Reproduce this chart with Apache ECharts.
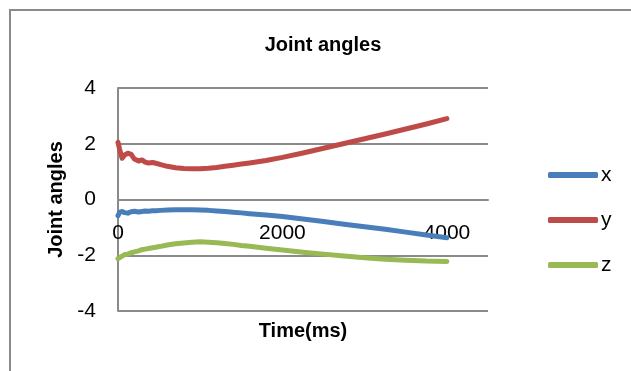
<!DOCTYPE html>
<html>
<head>
<meta charset="utf-8">
<title>Joint angles</title>
<script src="https://cdn.jsdelivr.net/npm/echarts@6/dist/echarts.min.js"></script>
<style>
  html, body { margin: 0; padding: 0; background: #fff; }
  #chart { width: 631px; height: 371px; }
</style>
</head>
<body>
<div id="chart"></div>
<script>
// Sample times (ms)
const timeMs = [0, 20, 50, 80, 120, 160, 200, 250, 290, 330, 370, 420, 460, 520, 600, 700, 800, 900,
  1000, 1100, 1200, 1300, 1400, 1500, 1600, 1800, 2000, 2250, 2500, 2750, 3000, 3250, 3500, 3750, 4000];

// Joint angle components
const angleX = [-0.58, -0.46, -0.43, -0.47, -0.49, -0.44, -0.42, -0.45, -0.43, -0.41, -0.42, -0.40, -0.40, -0.39, -0.38, -0.37, -0.37, -0.37,
  -0.38, -0.39, -0.41, -0.43, -0.46, -0.48, -0.51, -0.56, -0.61, -0.70, -0.79, -0.89, -0.98, -1.07, -1.17, -1.27, -1.37];
const angleY = [2.05, 1.80, 1.48, 1.60, 1.66, 1.62, 1.45, 1.38, 1.42, 1.34, 1.31, 1.33, 1.30, 1.25, 1.19, 1.14, 1.11, 1.10,
  1.10, 1.12, 1.15, 1.19, 1.23, 1.27, 1.31, 1.40, 1.51, 1.67, 1.84, 2.01, 2.18, 2.35, 2.53, 2.71, 2.90];
const angleZ = [-2.12, -2.07, -2.03, -1.98, -1.96, -1.91, -1.88, -1.84, -1.80, -1.78, -1.76, -1.73, -1.71, -1.68, -1.63, -1.59, -1.56, -1.53,
  -1.52, -1.53, -1.55, -1.58, -1.61, -1.65, -1.68, -1.75, -1.81, -1.89, -1.96, -2.03, -2.09, -2.14, -2.18, -2.21, -2.22];

const seriesNames = ['x', 'y', 'z'];
const seriesColors = ['#4a7ebb', '#be4b48', '#98b954'];

const FONT = '"Liberation Sans", Arial, sans-serif';
const GRID_GRAY = '#8a8a8a';

// plot box (px) and the value range of the angle axis
const PLOT = { left: 118, top: 88, right: 143, bottom: 60 };
const Y_MIN = -4, Y_MAX = 4;
// lift the time axis from the bottom edge up to the zero line
const plotHeight = 371 - PLOT.top - PLOT.bottom;
const zeroLift = plotHeight * (0 - Y_MIN) / (Y_MAX - Y_MIN);

function pairs(values) {
  return timeMs.map((t, i) => [t, values[i]]);
}

const chart = echarts.init(document.getElementById('chart'), null, { renderer: 'canvas' });

chart.setOption({
  backgroundColor: '#ffffff',
  animation: false,
  textStyle: { fontFamily: FONT },
  graphic: [
    {
      type: 'rect',
      z: -1,
      shape: { x: 10, y: 10, width: 700, height: 500 },
      style: { fill: 'none', stroke: GRID_GRAY, lineWidth: 2 }
    },
    {
      type: 'text',
      x: 323,
      y: 45,
      style: {
        text: 'Joint angles',
        fontFamily: FONT,
        fontSize: 20,
        fontWeight: 'bold',
        fill: '#000',
        align: 'center',
        verticalAlign: 'middle'
      }
    }
  ],
  legend: {
    orient: 'vertical',
    left: 543,
    top: 159,
    padding: 5,
    itemWidth: 50,
    itemHeight: 6,
    itemGap: 23,
    icon: 'roundRect',
    data: seriesNames,
    textStyle: { fontFamily: FONT, fontSize: 21, lineHeight: 22, color: '#000', padding: [0, 0, 0, -2] }
  },
  grid: Object.assign({ containLabel: false, outerBoundsMode: 'none' }, PLOT),
  xAxis: {
    type: 'value',
    min: 0,
    max: 4500,
    interval: 2000,
    z: 3,
    offset: -zeroLift,
    name: 'Time(ms)',
    nameLocation: 'middle',
    nameGap: 122,
    nameTextStyle: { fontFamily: FONT, fontSize: 20, fontWeight: 'bold', color: '#000' },
    axisLine: { show: true, onZero: false, lineStyle: { color: GRID_GRAY, width: 2 } },
    axisTick: { show: false },
    splitLine: { show: false },
    axisLabel: {
      fontFamily: FONT, fontSize: 21, color: '#000', margin: 23, showMaxLabel: false,
      formatter: (v) => String(v)
    }
  },
  yAxis: {
    type: 'value',
    min: Y_MIN,
    max: Y_MAX,
    interval: 2,
    name: 'Joint angles',
    nameLocation: 'middle',
    nameGap: 50,
    nameTextStyle: { fontFamily: FONT, fontSize: 20, fontWeight: 'bold', color: '#000' },
    axisLine: { show: true, onZero: false, lineStyle: { color: GRID_GRAY, width: 2 } },
    axisTick: { show: false },
    splitLine: { show: true, lineStyle: { color: GRID_GRAY, width: 2 } },
    axisLabel: { fontFamily: FONT, fontSize: 21, color: '#000', margin: 22 }
  },
  series: [angleX, angleY, angleZ].map((vals, i) => ({
    name: seriesNames[i],
    type: 'line',
    data: pairs(vals),
    showSymbol: false,
    symbol: 'none',
    color: seriesColors[i],
    lineStyle: { width: 5, color: seriesColors[i], cap: 'round', join: 'round' }
  }))
});
</script>
</body>
</html>
